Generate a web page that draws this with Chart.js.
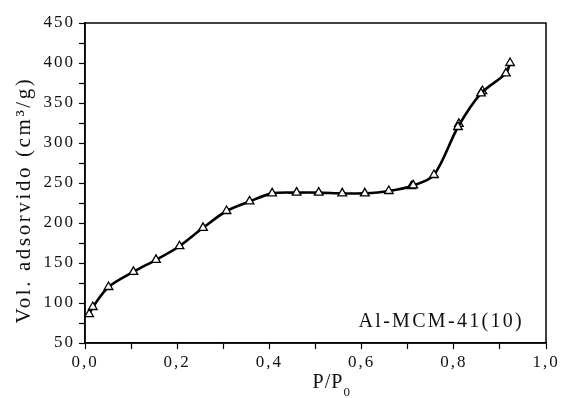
<!DOCTYPE html>
<html>
<head>
<meta charset="utf-8">
<script src="https://cdn.jsdelivr.net/npm/chart.js@4.4.1/dist/chart.umd.min.js"></script>
<style>
    html, body { margin: 0; padding: 0; background: #fff; }
    #wrap { width: 561px; height: 398px; }
</style>
</head>
<body>
<div id="wrap"><canvas id="chart"></canvas></div>
<script>
// Adsorption branch (P/P0, volume cm3/g)
const adsPressure = [0.009, 0.017, 0.051, 0.105, 0.154, 0.205, 0.256, 0.307, 0.357, 0.406, 0.459, 0.507, 0.558, 0.607, 0.659, 0.712, 0.757, 0.809, 0.859, 0.913, 0.922];
const adsVolume   = [86, 95, 120, 139, 154, 171, 194, 215, 227, 237, 238, 238, 237, 237, 240, 247, 260, 320, 362, 387, 400];

// Desorption branch (points sit almost on top of the adsorption curve)
const desPressure = [0.862, 0.811, 0.708];
const desVolume   = [365, 324, 246];

const xTicks = [0, 0.2, 0.4, 0.6, 0.8, 1.0];
const yTicks = [50, 100, 150, 200, 250, 300, 350, 400, 450];
const sampleLabel = 'Al-MCM-41(10)';

const serif = '"Liberation Serif", "Times New Roman", serif';

function toPoints(xs, ys) {
    return xs.map((x, i) => ({ x: x, y: ys[i] }));
}

// Frame, axis titles and sample label
const decorPlugin = {
    id: 'decor',
    beforeDraw(chart) {
        chart.ctx.letterSpacing = '2px';
    },
    afterDraw(chart) {
        const ctx = chart.ctx;
        const a = chart.chartArea;
        ctx.save();
        ctx.strokeStyle = '#000';
        ctx.lineWidth = 1.5;
        ctx.strokeRect(a.left, a.top, a.right - a.left, a.bottom - a.top);

        ctx.fillStyle = '#111';
        ctx.letterSpacing = '2.3px';
        ctx.font = '20px ' + serif;
        ctx.textAlign = 'right';
        ctx.textBaseline = 'alphabetic';
        ctx.fillText(sampleLabel, a.right - 22, a.bottom - 16);

        // x title with subscript
        ctx.letterSpacing = '1px';
        ctx.font = '20px ' + serif;
        ctx.textAlign = 'left';
        const main = 'P/P';
        const w = ctx.measureText(main).width;
        const x0 = 332 - (w + 8) / 2;
        ctx.fillText(main, x0, 388);
        ctx.font = '13px ' + serif;
        ctx.fillText('0', x0 + w, 396);

        // y title, rotated
        ctx.letterSpacing = '2.6px';
        ctx.translate(24, 200);
        ctx.rotate(-Math.PI / 2);
        ctx.font = '21px ' + serif;
        ctx.textAlign = 'center';
        ctx.textBaseline = 'middle';
        ctx.fillText('Vol. adsorvido (cm\u00B3/g)', 0, 0);
        ctx.restore();
    }
};

new Chart(document.getElementById('chart'), {
    type: 'scatter',
    data: {
        datasets: [{
            label: 'adsorção',
            data: toPoints(adsPressure, adsVolume),
            showLine: true,
            borderColor: '#000',
            borderWidth: 2.6,
            tension: 0.3,
            pointStyle: 'triangle',
            pointRadius: 5,
            pointBackgroundColor: '#fff',
            pointBorderColor: '#000',
            pointBorderWidth: 1.3
        }, {
            label: 'dessorção',
            data: toPoints(desPressure, desVolume),
            showLine: false,
            pointStyle: 'triangle',
            pointRadius: 5,
            pointBackgroundColor: '#fff',
            pointBorderColor: '#000',
            pointBorderWidth: 1.3
        }]
    },
    options: {
        responsive: true,
        maintainAspectRatio: false,
        animation: false,
        events: [],
        layout: { padding: { top: 23, right: 15, left: 0, bottom: 0 } },
        plugins: {
            legend: { display: false },
            tooltip: { enabled: false }
        },
        scales: {
            x: {
                type: 'linear',
                min: 0,
                max: 1,
                afterFit(scale) { scale.height = 55; },
                afterBuildTicks(scale) {
                    const t = [];
                    for (let i = 0; i <= 10; i++) t.push({ value: i / 10 });
                    scale.ticks = t;
                },
                ticks: {
                    autoSkip: false,
                    maxRotation: 0,
                    padding: 3,
                    color: '#111',
                    font: { family: serif, size: 17 },
                    callback(v) {
                        const r = Math.round(v * 10);
                        if (r % 2 !== 0) return '';
                        const lbl = xTicks.find(t => Math.round(t * 10) === r);
                        return lbl === undefined ? '' : lbl.toFixed(1).replace('.', ',');
                    }
                },
                grid: { drawOnChartArea: false, drawTicks: true, tickLength: 6, tickColor: '#000', tickWidth: 1.2 },
                border: { display: true, color: '#000', width: 1.5 }
            },
            y: {
                min: 50,
                max: 450,
                afterFit(scale) { scale.width = 85; },
                afterBuildTicks(scale) {
                    const t = [];
                    for (let v = 50; v <= 450; v += 25) t.push({ value: v });
                    scale.ticks = t;
                },
                ticks: {
                    autoSkip: false,
                    padding: 4,
                    color: '#111',
                    font: { family: serif, size: 17 },
                    callback(v) {
                        return yTicks.includes(v) ? String(v) : '';
                    }
                },
                grid: { drawOnChartArea: false, drawTicks: true, tickLength: 6, tickColor: '#000', tickWidth: 1.2 },
                border: { display: true, color: '#000', width: 1.5 }
            }
        }
    },
    plugins: [decorPlugin]
});
</script>
</body>
</html>
